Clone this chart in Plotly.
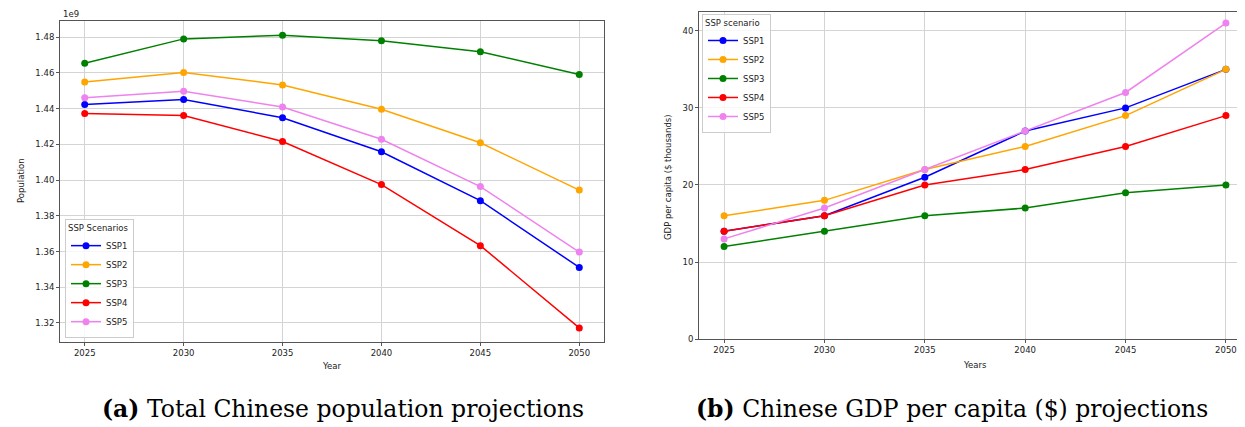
import plotly.graph_objects as go

# ---------------- data ----------------
years = [2025, 2030, 2035, 2040, 2045, 2050]
scenarios = ["SSP1", "SSP2", "SSP3", "SSP4", "SSP5"]
colors = ["#0000FF", "#FFA500", "#008000", "#FF0000", "#EE82EE"]

pop_ssp1 = [1.4424e9, 1.4452e9, 1.4349e9, 1.4159e9, 1.3885e9, 1.3511e9]
pop_ssp2 = [1.4550e9, 1.4603e9, 1.4533e9, 1.4397e9, 1.4209e9, 1.3944e9]
pop_ssp3 = [1.4655e9, 1.4791e9, 1.4811e9, 1.4780e9, 1.4719e9, 1.4592e9]
pop_ssp4 = [1.4373e9, 1.4362e9, 1.4216e9, 1.3975e9, 1.3633e9, 1.3172e9]
pop_ssp5 = [1.4461e9, 1.4498e9, 1.4409e9, 1.4229e9, 1.3964e9, 1.3597e9]

gdp_ssp1 = [14, 16, 21, 27, 30, 35]
gdp_ssp2 = [16, 18, 22, 25, 29, 35]
gdp_ssp3 = [12, 14, 16, 17, 19, 20]
gdp_ssp4 = [14, 16, 20, 22, 25, 29]
gdp_ssp5 = [13, 17, 22, 27, 32, 41]

pop_tickvals = [1.32e9, 1.34e9, 1.36e9, 1.38e9, 1.40e9, 1.42e9, 1.44e9, 1.46e9, 1.48e9]
pop_ticktext = ["1.32", "1.34", "1.36", "1.38", "1.40", "1.42", "1.44", "1.46", "1.48"]
gdp_tickvals = [0, 10, 20, 30, 40]
year_ticks = [2025, 2030, 2035, 2040, 2045, 2050]

pop_series = [pop_ssp1, pop_ssp2, pop_ssp3, pop_ssp4, pop_ssp5]
gdp_series = [gdp_ssp1, gdp_ssp2, gdp_ssp3, gdp_ssp4, gdp_ssp5]

# ---------------- layout geometry ----------------
W, H = 1245, 427
def px_x(a, b):
    return [a / W, b / W]
def px_y(top, bottom):
    return [1 - bottom / H, 1 - top / H]

fig = go.Figure()

for name, col, ys in zip(scenarios, colors, pop_series):
    fig.add_trace(go.Scatter(
        x=years, y=ys, name=name, mode="lines+markers",
        line=dict(color=col, width=1.5), marker=dict(color=col, size=7),
        xaxis="x", yaxis="y", legend="legend"))

for name, col, ys in zip(scenarios, colors, gdp_series):
    fig.add_trace(go.Scatter(
        x=years, y=ys, name=name, mode="lines+markers",
        line=dict(color=col, width=1.5), marker=dict(color=col, size=7),
        xaxis="x2", yaxis="y2", legend="legend2"))

tick_font = dict(family="DejaVu Sans", size=8.5, color="#222222")
axis_common = dict(
    showgrid=True, gridcolor="#d4d4d4", gridwidth=1,
    showline=True, linecolor="#555555", linewidth=1, mirror=True,
    ticks="outside", ticklen=3, tickcolor="#555555", tickwidth=1,
    tickfont=tick_font, zeroline=False,
)

fig.update_layout(
    width=W, height=H,
    margin=dict(l=0, r=0, t=0, b=0),
    paper_bgcolor="white", plot_bgcolor="white",
    xaxis=dict(domain=px_x(52, 596), range=[2023.75, 2051.25],
               tickvals=year_ticks, anchor="y", **axis_common),
    yaxis=dict(domain=px_y(13, 338), range=[1.3093e9, 1.4892e9],
               tickvals=pop_tickvals, ticktext=pop_ticktext, anchor="x",
               **axis_common),
    xaxis2=dict(domain=px_x(691, 1243), range=[2023.75, 2051.25],
                tickvals=year_ticks, anchor="y2", **axis_common),
    yaxis2=dict(domain=px_y(4, 335), range=[0, 42.45],
                tickvals=gdp_tickvals, anchor="x2", **axis_common),
    legend=dict(
        title=dict(text="SSP Scenarios", font=dict(family="DejaVu Sans", size=8.5, color="#222")),
        font=dict(family="DejaVu Sans", size=8.5, color="#222"),
        x=57 / W, y=1 - 334 / H, xanchor="left", yanchor="bottom",
        bgcolor="rgba(255,255,255,0.8)", bordercolor="#cccccc", borderwidth=1,
        itemwidth=30,
    ),
    legend2=dict(
        title=dict(text="SSP scenario", font=dict(family="DejaVu Sans", size=8.5, color="#222")),
        font=dict(family="DejaVu Sans", size=8.5, color="#222"),
        x=694 / W, y=1 - 6 / H, xanchor="left", yanchor="top",
        bgcolor="rgba(255,255,255,0.8)", bordercolor="#cccccc", borderwidth=1,
        itemwidth=30,
    ),
)

lab_font = dict(family="DejaVu Sans", size=8.5, color="#222222")
cap_font = dict(family="DejaVu Serif", size=23.5, color="black")
annotations = [
    dict(text="1e9", x=53 / W, y=1 - 6 / H, xref="paper", yref="paper",
         xanchor="left", yanchor="middle", showarrow=False, font=lab_font),
    dict(text="Population", x=13 / W, y=1 - 175 / H, xref="paper", yref="paper",
         textangle=-90, xanchor="center", yanchor="middle", showarrow=False, font=lab_font),
    dict(text="Year", x=324 / W, y=1 - 362 / H, xref="paper", yref="paper",
         xanchor="center", yanchor="middle", showarrow=False, font=lab_font),
    dict(text="GDP per capita ($ thousands)", x=660 / W, y=1 - 171 / H, xref="paper", yref="paper",
         textangle=-90, xanchor="center", yanchor="middle", showarrow=False, font=lab_font),
    dict(text="Years", x=967 / W, y=1 - 361 / H, xref="paper", yref="paper",
         xanchor="center", yanchor="middle", showarrow=False, font=lab_font),
    dict(text="<b>(a)</b> Total Chinese population projections", x=335 / W, y=1 - 406 / H,
         xref="paper", yref="paper", xanchor="center", yanchor="middle", showarrow=False,
         font=cap_font),
    dict(text="<b>(b)</b> Chinese GDP per capita ($) projections", x=944 / W, y=1 - 406 / H,
         xref="paper", yref="paper", xanchor="center", yanchor="middle", showarrow=False,
         font=cap_font),
]
fig.update_layout(annotations=annotations)

fig.write_html("out.html")
